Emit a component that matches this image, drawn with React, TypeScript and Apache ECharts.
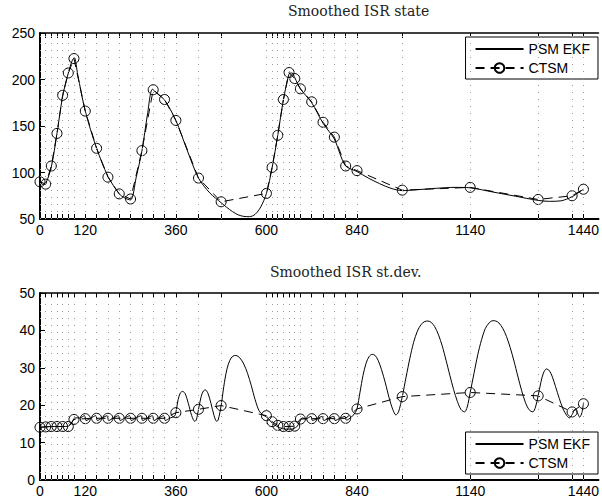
import React, { useEffect, useRef } from 'react';
import * as echarts from 'echarts';

// CTSM sample times (minutes) — also the x tick / grid positions
const ctsmTimes = [0, 15, 30, 45, 60, 75, 90, 120, 150, 180, 210, 240, 270, 300, 330, 360, 420, 480,
  600, 615, 630, 645, 660, 675, 690, 720, 750, 780, 810, 840, 960, 1140, 1320, 1410, 1440];
const xLabelTicks = [0, 120, 360, 600, 840, 1140, 1440];

// Top panel: smoothed ISR state
const ctsmState = [90, 87.5, 107, 142, 183, 207, 222.5, 166, 126, 95, 77, 71.5, 123.5, 189, 178.5, 156, 94, 68.5,
  77.5, 105.5, 140, 178.5, 207.5, 201, 190, 176, 154, 138, 107, 102, 81, 84, 71, 75, 82];

const psmState: [number, number][] = [
  [0, 90], [8, 87], [15, 88], [30, 106], [45, 142], [60, 182], [75, 207], [85, 220], [91, 223.5], [100, 205],
  [120, 166], [150, 126], [180, 96], [210, 77], [225, 72.5], [240, 70.5], [255, 95], [270, 123], [285, 163],
  [298, 189.5], [310, 185], [330, 178], [360, 156], [390, 124], [420, 94], [450, 78], [480, 67.5], [495, 62.5],
  [510, 58], [525, 54.5], [540, 52.8], [555, 52.5], [570, 55], [585, 63], [600, 77.5], [615, 105], [630, 140],
  [645, 178], [660, 206], [668, 207], [675, 202], [690, 190], [720, 175], [750, 153], [780, 136], [795, 120],
  [810, 107], [840, 101], [870, 94], [900, 88], [930, 83], [960, 80.5], [1000, 81.5], [1050, 83], [1100, 84],
  [1140, 83.5], [1200, 79], [1260, 74.5], [1320, 70], [1350, 69], [1380, 69.5], [1410, 74], [1440, 82]
];

// Bottom panel: smoothed ISR standard deviation
const ctsmStd = [14.1, 14.2, 14.3, 14.3, 14.3, 14.3, 16.2, 16.4, 16.5, 16.5, 16.5, 16.5, 16.5, 16.5, 16.5, 18.0, 18.9, 19.9,
  17.2, 15.6, 14.6, 14.3, 14.3, 14.4, 16.3, 16.4, 16.4, 16.4, 16.5, 19.0, 22.3, 23.4, 22.5, 18.2, 20.4];

const psmStd: [number, number][] = [
  [0, 10.5], [3, 14.0], [15, 14.2], [30, 14.3], [45, 14.3], [60, 14.3], [75, 14.4], [84, 15.2], [92, 16.6],
  [105, 16.6], [118, 17.2], [122, 15.9], [135, 16.6], [148, 17.2], [152, 15.9], [165, 16.6], [178, 17.2],
  [182, 15.9], [195, 16.6], [208, 17.2], [212, 15.9], [225, 16.6], [238, 17.2], [242, 15.9], [255, 16.6],
  [268, 17.2], [272, 15.9], [285, 16.6], [298, 17.2], [302, 15.9], [315, 16.6], [328, 17.2], [332, 15.9],
  [345, 16.6], [356, 17.0], [360, 18.0], [366, 21.5], [372, 23.3], [378, 23.7], [385, 23.0], [393, 20.5],
  [402, 17.2], [410, 15.7], [414, 16.0], [420, 18.9], [427, 22.3], [433, 23.8], [438, 24.1], [445, 23.2],
  [453, 20.5], [461, 17.3], [468, 15.7], [472, 16.0], [480, 19.9], [487, 25.0], [495, 29.5], [503, 32.0],
  [511, 33.1], [519, 33.3], [530, 32.6], [540, 31.0], [550, 28.5], [560, 25.2], [570, 21.5], [580, 18.6],
  [590, 17.4], [600, 16.9], [610, 15.8], [620, 14.8], [635, 14.0], [650, 13.6], [665, 13.6], [680, 14.2],
  [688, 15.5], [695, 16.6], [705, 16.4], [718, 17.0], [722, 15.9], [735, 16.5], [748, 17.0], [752, 15.9],
  [765, 16.5], [778, 17.0], [782, 15.9], [795, 16.5], [808, 17.0], [812, 16.0], [825, 16.8], [835, 18.0],
  [840, 19.0], [848, 23.5], [856, 28.0], [864, 31.2], [872, 33.0], [880, 33.6], [888, 33.3], [896, 32.0],
  [905, 29.5], [915, 26.0], [925, 22.0], [935, 18.8], [943, 17.4], [950, 18.2], [960, 22.3], [970, 27.5],
  [980, 32.5], [990, 36.8], [1000, 39.8], [1010, 41.6], [1020, 42.4], [1028, 42.5], [1036, 42.2], [1046, 41.0],
  [1056, 38.8], [1066, 35.8], [1076, 32.0], [1086, 28.0], [1096, 24.2], [1106, 21.0], [1116, 18.8], [1125, 18.2],
  [1132, 19.5], [1140, 23.4], [1150, 28.5], [1160, 33.5], [1170, 37.5], [1180, 40.5], [1190, 42.0], [1200, 42.6],
  [1208, 42.5], [1216, 42.0], [1226, 40.6], [1236, 38.4], [1246, 35.4], [1256, 31.8], [1266, 27.8], [1276, 24.0],
  [1286, 20.8], [1296, 18.8], [1306, 18.2], [1313, 19.5], [1320, 22.5], [1327, 26.0], [1334, 28.6], [1342, 29.7],
  [1350, 29.2], [1358, 27.5], [1366, 25.0], [1376, 21.8], [1386, 19.0], [1396, 17.2], [1403, 16.6], [1410, 17.5],
  [1418, 18.9], [1424, 18.0], [1430, 16.8], [1436, 18.0], [1440, 20.5]
];

const SANS = 'Liberation Sans, Arial, Helvetica, sans-serif';
const SERIF = 'DejaVu Serif, Liberation Serif, serif';

export default function App() {
  const ref = useRef<HTMLDivElement>(null);
  useEffect(() => {
    document.body.style.margin = '0';
    if (!ref.current) return;
    const chart = echarts.init(ref.current, null, { renderer: 'svg' });

    const grids = [
      { left: 40, top: 33, width: 562, height: 186 },
      { left: 40, top: 293, width: 562, height: 187 },
    ];
    const xMax = 1480;
    const xAxes: any[] = [];
    const yAxes: any[] = [];
    [0, 1].forEach((g) => {
      xAxes.push({
        type: 'value', gridIndex: g, min: 0, max: xMax, position: 'bottom',
        axisLine: { show: true, onZero: false, lineStyle: { color: '#000', width: 2 } },
        axisTick: { show: true, inside: true, length: 5, customValues: ctsmTimes, lineStyle: { color: '#000', width: 1 } },
        axisLabel: { show: true, customValues: xLabelTicks, margin: 4, color: '#000', fontSize: 14, fontFamily: SANS, formatter: (v: number) => String(v) },
        splitLine: { show: false },
      });
      xAxes.push({
        type: 'value', gridIndex: g, min: 0, max: xMax, position: 'top',
        axisLine: { show: true, onZero: false, lineStyle: { color: '#000', width: 1.5 } },
        axisTick: { show: true, inside: true, length: 5, customValues: ctsmTimes, lineStyle: { color: '#000', width: 1 } },
        axisLabel: { show: false },
        splitLine: { show: false },
      });
      yAxes.push({
        type: 'value', gridIndex: g,
        min: g === 0 ? 50 : 0, max: g === 0 ? 250 : 50, interval: g === 0 ? 50 : 10,
        axisLine: { show: true, lineStyle: { color: '#000', width: 2 } },
        axisTick: { show: true, inside: true, length: 5, lineStyle: { color: '#000', width: 1 } },
        axisLabel: { color: '#000', fontSize: 14, fontFamily: SANS, margin: 5 },
        splitLine: { show: false },
      });
    });

    const gridLineSeries = (g: number) => ({
      type: 'line', name: 'grid' + g, xAxisIndex: g * 2, yAxisIndex: g, data: [], z: 1, silent: true,
      markLine: {
        silent: true, symbol: ['none', 'none'], label: { show: false },
        lineStyle: { type: [1, 6], color: '#999', width: 1 },
        emphasis: { disabled: true },
        data: ctsmTimes.map((t) => ({ xAxis: t })),
      },
    });

    const psmSeries = (g: number, data: [number, number][]) => ({
      type: 'line', name: 'PSM EKF', xAxisIndex: g * 2, yAxisIndex: g, data,
      smooth: 0.3, symbol: 'none', z: 3,
      lineStyle: { color: '#000', width: 1 }, itemStyle: { color: '#000' },
    });
    const ctsmSeries = (g: number, vals: number[]) => ({
      type: 'line', name: 'CTSM', xAxisIndex: g * 2, yAxisIndex: g,
      data: ctsmTimes.map((t, i) => [t, vals[i]]),
      symbol: 'circle', symbolSize: 10, z: 4,
      lineStyle: { color: '#000', width: 1, type: [9, 6] },
      itemStyle: { color: 'rgba(0,0,0,0)', borderColor: '#000', borderWidth: 1 },
    });

    const legendBase = {
      orient: 'vertical', right: 4, padding: [5, 8, 4, 9], itemGap: 5, itemWidth: 48, itemHeight: 12,
      backgroundColor: '#fff', borderColor: '#000', borderWidth: 1, borderRadius: 0,
      textStyle: { color: '#000', fontSize: 14, fontFamily: SANS },
      data: [
        { name: 'PSM EKF', itemStyle: { color: 'rgba(0,0,0,0)', borderColor: 'rgba(0,0,0,0)', borderWidth: 0, opacity: 0 } },
        { name: 'CTSM' },
      ],
      selectedMode: false,
    };

    chart.setOption({
      animation: false,
      backgroundColor: '#fff',
      title: [
        { text: 'Smoothed ISR state', left: 288, top: 4, padding: 0, textStyle: { fontFamily: SERIF, fontSize: 14, fontWeight: 'normal', color: '#222' } },
        { text: 'Smoothed ISR st.dev.', left: 270, top: 265, padding: 0, textStyle: { fontFamily: SERIF, fontSize: 14, fontWeight: 'normal', color: '#222' } },
      ],
      legend: [
        { ...legendBase, top: 37 },
        { ...legendBase, top: 432 },
      ],
      grid: grids,
      xAxis: xAxes,
      yAxis: yAxes,
      series: [
        gridLineSeries(0), gridLineSeries(1),
        psmSeries(0, psmState), ctsmSeries(0, ctsmState),
        psmSeries(1, psmStd), ctsmSeries(1, ctsmStd),
      ],
    });
    return () => chart.dispose();
  }, []);
  return <div ref={ref} style={{ width: 602, height: 504 }} />;
}
